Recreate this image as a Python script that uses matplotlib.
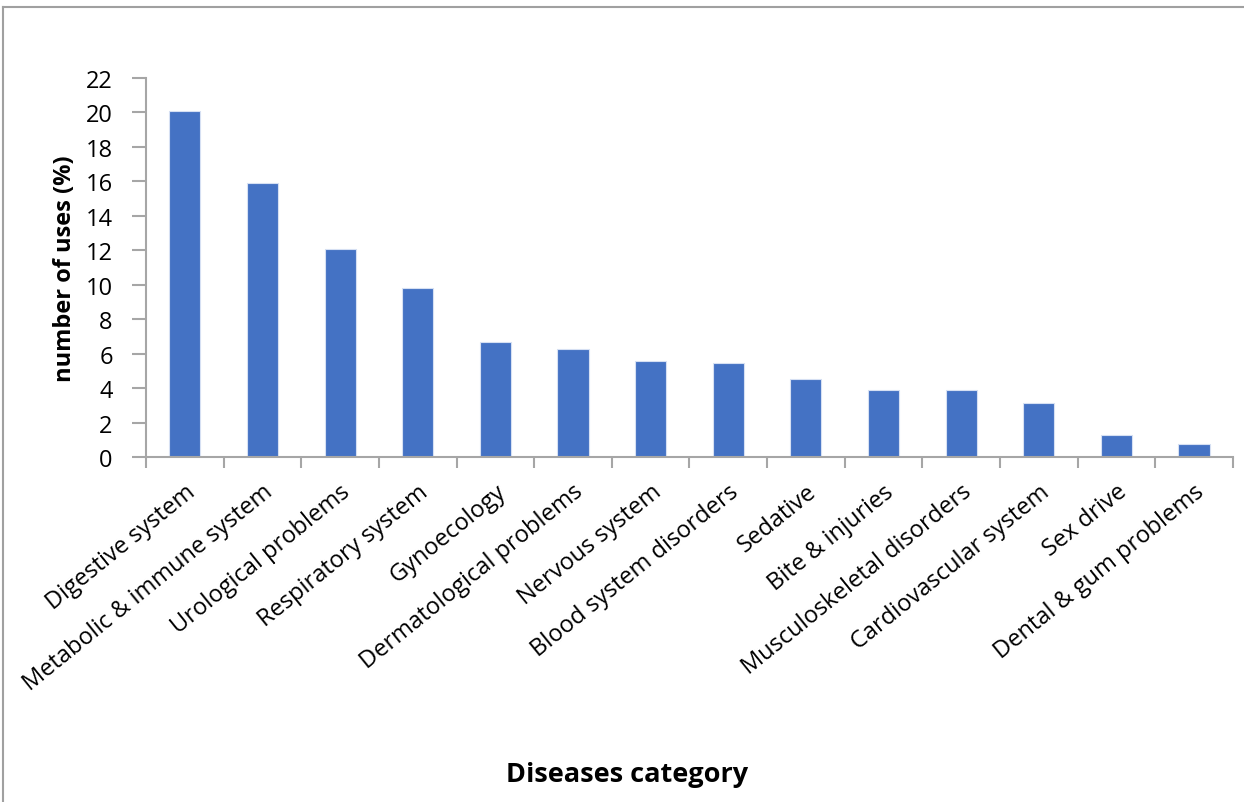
import matplotlib
matplotlib.use("Agg")
import matplotlib.pyplot as plt
from matplotlib.lines import Line2D

# Share of reported uses per disease category
categories = [
    "Digestive system",
    "Metabolic & immune system",
    "Urological problems",
    "Respiratory system",
    "Gynoecology",
    "Dermatological problems",
    "Nervous system",
    "Blood system disorders",
    "Sedative",
    "Bite & injuries",
    "Musculoskeletal disorders",
    "Cardiovascular system",
    "Sex drive",
    "Dental & gum problems",
]
uses_pct = [20.1, 15.9, 12.1, 9.8, 6.65, 6.25, 5.6, 5.45, 4.55, 3.9, 3.9, 3.15, 1.3, 0.75]
yticks = list(range(0, 23, 2))

BAR_COLOR = "#4472C4"
AXIS_COLOR = "#A6A6A6"
FONT = ["Open Sans", "DejaVu Sans"]

fig = plt.figure(figsize=(12.44, 8.03), dpi=100)
ax = fig.add_axes([0.1174, 0.4296, 0.8736, 0.472])

x = range(len(categories))
ax.bar(x, uses_pct, width=0.4, color=BAR_COLOR, edgecolor="#D6E0F3",
       linewidth=0.8, zorder=2)

ax.set_xlim(-0.5, len(categories) - 0.5)
ax.set_ylim(0, 22)
ax.set_yticks(yticks)
ax.set_yticklabels([str(v) for v in yticks], family=FONT, fontsize=17)

# category ticks sit between bars, labels under each bar
ax.set_xticks([i - 0.5 for i in range(len(categories) + 1)])
ax.set_xticklabels([])
ax.set_xticks(list(x), minor=True)
ax.set_xticklabels(categories, minor=True, rotation=39, ha="right",
                   rotation_mode="anchor", family=FONT, fontsize=17)
ax.tick_params(axis="x", which="minor", length=0, pad=16)
ax.tick_params(axis="x", which="major", length=8, width=1.5, color=AXIS_COLOR)
ax.tick_params(axis="y", length=10, width=1.5, color=AXIS_COLOR, pad=14)

for side in ("top", "right"):
    ax.spines[side].set_visible(False)
for side in ("left", "bottom"):
    ax.spines[side].set_color(AXIS_COLOR)
    ax.spines[side].set_linewidth(1.5)

ax.set_ylabel("number of uses (%)", family=FONT, fontsize=17,
              fontweight="bold", labelpad=6)
fig.text(0.504, 0.035, "Diseases category", family=FONT, fontsize=19.5,
         fontweight="bold", ha="center", va="center")

# chart area border (left and top edges)
fig.add_artist(Line2D([0.0025, 0.0025], [0.0, 0.99], transform=fig.transFigure,
                      color="#A0A0A0", linewidth=1.5))
fig.add_artist(Line2D([0.0025, 1.0], [0.99, 0.99], transform=fig.transFigure,
                      color="#A0A0A0", linewidth=1.5))

fig.savefig("out.png", dpi=100)
